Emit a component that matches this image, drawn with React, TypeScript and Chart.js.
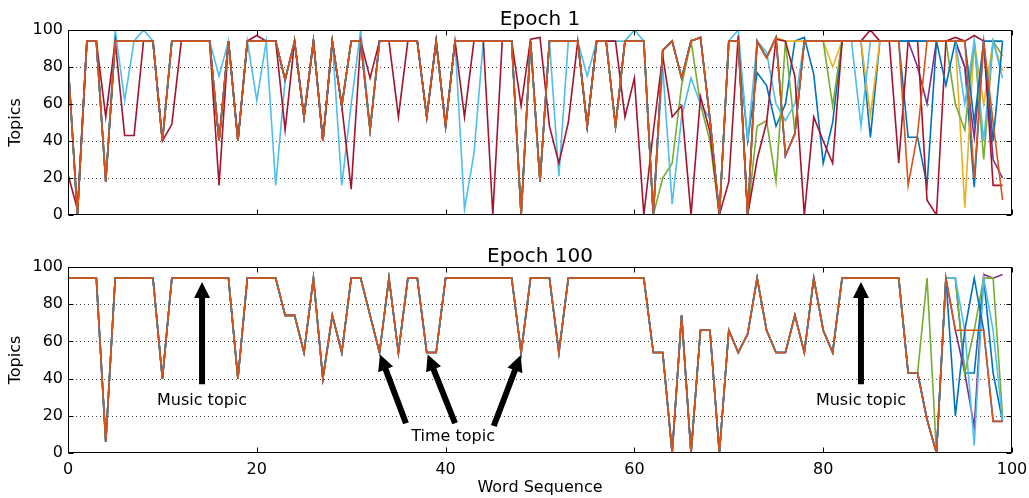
import React, { useEffect, useRef } from "react";
import { Chart, registerables } from "chart.js";

Chart.register(...registerables);

const FONT = "'DejaVu Sans', sans-serif";

// x positions (word index 0..99)
const wordIndex: number[] = Array.from({ length: 100 }, (_, i) => i);
const xTicks = [0, 20, 40, 60, 80, 100];
const yTicks = [0, 20, 40, 60, 80, 100];
const yGridValues = [20, 40, 60, 80];

// ---------- Epoch 1 (top) ----------
const topShared = [
  83, 0, 94, 94, 18, 94, 94, 94, 94, 94,
  40, 94, 94, 94, 94, 94, 40, 94, 40, 94,
  94, 94, 94, 73, 94, 53, 94, 40, 94, 59,
  94, 94, 46, 94, 94, 94, 94, 94, 53, 94,
  48, 94, 94, 94, 94, 94, 94, 94, 0, 94,
  18, 94, 94, 94, 94, 48, 94, 94, 48, 94,
  94,
];
const topOrangeTail = [
  94, 0, 89, 94, 74, 94, 96, 52, 0, 94,
  94, 0, 94, 85, 96, 32, 44, 94, 94, 94,
  94, 94, 94, 94, 94, 94, 94, 94, 16, 44,
  94, 94, 94, 94, 94, 20, 94, 50, 8,
];
const topBlueTail = [
  94, 0, 89, 94, 74, 94, 96, 52, 0, 94,
  94, 40, 77, 70, 48, 60, 94, 96, 76, 28,
  50, 94, 94, 94, 42, 94, 94, 94, 42, 42,
  16, 94, 94, 94, 80, 15, 94, 94, 94,
];
const topYellowTail = [
  94, 0, 89, 94, 74, 94, 96, 52, 0, 94,
  94, 0, 94, 85, 96, 94, 94, 94, 94, 94,
  80, 94, 94, 94, 54, 94, 94, 94, 94, 94,
  94, 94, 94, 94, 4, 94, 60, 94, 78,
];
const topPurpleTail = [
  94, 0, 89, 94, 74, 94, 96, 52, 0, 94,
  94, 0, 94, 85, 96, 32, 44, 94, 94, 94,
  94, 94, 94, 94, 94, 94, 94, 94, 94, 80,
  60, 94, 94, 94, 80, 42, 94, 30, 20,
];
const topGreenTail = [
  94, 0, 20, 28, 70, 94, 60, 40, 0, 94,
  94, 0, 48, 51, 18, 94, 45, 94, 94, 94,
  59, 94, 94, 94, 94, 94, 94, 94, 94, 94,
  94, 94, 94, 60, 46, 94, 30, 94, 86,
];
const topBlue2Tail = [
  94, 0, 89, 94, 74, 94, 96, 52, 0, 94,
  94, 0, 94, 85, 96, 32, 44, 94, 94, 94,
  94, 94, 94, 94, 94, 94, 94, 94, 94, 94,
  94, 94, 70, 94, 94, 50, 94, 40, 94,
];
const topLightBlue = [
  83, 0, 94, 94, 18, 100, 62, 94, 100, 94,
  40, 94, 94, 94, 94, 94, 75, 94, 40, 94,
  62, 94, 16, 73, 94, 53, 94, 40, 94, 16,
  60, 100, 46, 94, 94, 94, 94, 94, 53, 94,
  48, 94, 3, 33, 94, 94, 94, 94, 0, 94,
  18, 94, 21, 94, 94, 75, 94, 94, 94, 94,
  100, 94, 0, 80, 6, 53, 74, 60, 52, 0,
  94, 100, 40, 94, 88, 60, 51, 60, 94, 94,
  94, 94, 94, 94, 48, 94, 94, 94, 94, 94,
  94, 94, 94, 94, 94, 60, 94, 40, 94, 74,
];
const topCrimson = [
  22, 3, 94, 94, 53, 94, 43, 43, 94, 94,
  40, 49, 94, 94, 94, 94, 16, 94, 40, 94,
  97, 94, 94, 46, 94, 53, 94, 40, 94, 59,
  14, 94, 74, 94, 94, 53, 94, 94, 53, 94,
  48, 94, 53, 94, 94, 0, 94, 94, 59, 95,
  96, 48, 28, 50, 94, 48, 94, 94, 94, 53,
  74, 0, 45, 86, 53, 59, 0, 64, 45, 0,
  18, 97, 0, 30, 50, 95, 94, 75, 0, 53,
  40, 28, 94, 94, 94, 100, 94, 94, 28, 94,
  94, 8, 0, 94, 96, 94, 97, 94, 16, 16,
];

// ---------- Epoch 100 (bottom) ----------
const bottomShared = [
  94, 94, 94, 94, 6, 94, 94, 94, 94, 94,
  40, 94, 94, 94, 94, 94, 94, 94, 40, 94,
  94, 94, 94, 74, 74, 54, 94, 40, 74, 54,
  94, 94, 74, 54, 94, 54, 94, 94, 54, 54,
  94, 94, 94, 94, 94, 94, 94, 94, 54, 94,
  94, 94, 54, 94, 94, 94, 94, 94, 94, 94,
  94, 94, 54, 54, 0, 74, 0, 66, 66, 0,
  66, 54, 64, 94, 66, 54, 54, 74, 54, 94,
  66, 54, 94, 94, 94, 94, 94, 94, 94,
];
const bottomOrangeTail = [43, 43, 18, 0, 94, 66, 66, 66, 66, 17, 17];
const bottomGreenTail = [43, 43, 94, 0, 94, 94, 43, 66, 94, 94, 20];
const bottomBlueTail = [43, 43, 18, 0, 94, 94, 43, 43, 94, 43, 17];
const bottomBlue2Tail = [43, 43, 18, 0, 94, 20, 66, 94, 66, 17, 17];
const bottomPurpleTail = [43, 43, 18, 0, 94, 66, 43, 14, 96, 94, 96];
const bottomLightBlueTail = [43, 43, 18, 0, 94, 94, 66, 4, 94, 66, 17];

const C = {
  blue: "#0072BD",
  orange: "#D95319",
  yellow: "#EDB120",
  purple: "#7E2F8E",
  green: "#77AC30",
  lightblue: "#4DBEEE",
  crimson: "#A2142F",
};

type Series = { values: number[]; color: string; order: number };

const topSeries: Series[] = [
  { values: [...topShared, ...topBlueTail], color: C.blue, order: 7 },
  { values: [...topShared, ...topYellowTail], color: C.yellow, order: 6 },
  { values: [...topShared, ...topPurpleTail], color: C.purple, order: 5 },
  { values: [...topShared, ...topGreenTail], color: C.green, order: 4 },
  { values: topLightBlue, color: C.lightblue, order: 3 },
  { values: topCrimson, color: C.crimson, order: 2 },
  { values: [...topShared, ...topBlue2Tail], color: C.blue, order: 1 },
  { values: [...topShared, ...topOrangeTail], color: C.orange, order: 0 },
];

const bottomSeries: Series[] = [
  { values: [...bottomShared, ...bottomBlueTail], color: C.blue, order: 6 },
  { values: [...bottomShared, ...bottomPurpleTail], color: C.purple, order: 5 },
  { values: [...bottomShared, ...bottomGreenTail], color: C.green, order: 4 },
  { values: [...bottomShared, ...bottomLightBlueTail], color: C.lightblue, order: 3 },
  { values: [...bottomShared, ...bottomBlue2Tail], color: C.blue, order: 2 },
  { values: [...bottomShared, ...bottomOrangeTail], color: C.orange, order: 0 },
];

// annotations (data coordinates)
const arrowSpecs = [
  { from: [14.2, 37], to: [14.2, 92] },
  { from: [84.0, 37], to: [84.0, 92] },
  { from: [35.8, 16], to: [33.05, 53] },
  { from: [41.0, 16], to: [38.1, 53] },
  { from: [45.1, 14.5], to: [47.95, 52.5] },
];
const labelSpecs = [
  { text: "Music topic", at: [14.2, 28] },
  { text: "Music topic", at: [84.0, 28] },
  { text: "Time topic", at: [40.8, 8.6] },
];

function drawArrow(ctx: CanvasRenderingContext2D, x1: number, y1: number, x2: number, y2: number) {
  const dx = x2 - x1, dy = y2 - y1;
  const len = Math.hypot(dx, dy);
  const ux = dx / len, uy = dy / len;
  const px = -uy, py = ux;
  const headL = 16, headW = 8, shaftW = 3;
  const bx = x2 - ux * headL, by = y2 - uy * headL;
  ctx.beginPath();
  ctx.moveTo(x1 + px * shaftW, y1 + py * shaftW);
  ctx.lineTo(bx + px * shaftW, by + py * shaftW);
  ctx.lineTo(bx + px * headW, by + py * headW);
  ctx.lineTo(x2, y2);
  ctx.lineTo(bx - px * headW, by - py * headW);
  ctx.lineTo(bx - px * shaftW, by - py * shaftW);
  ctx.lineTo(x1 - px * shaftW, y1 - py * shaftW);
  ctx.closePath();
  ctx.fillStyle = "#000";
  ctx.fill();
}

function makeFramePlugin(title: string, annotate: boolean) {
  return {
    id: "frame_" + title.replace(/\s/g, ""),
    beforeDatasetsDraw(chart: any) {
      const { ctx, chartArea } = chart;
      const { left, right } = chartArea;
      const y = chart.scales.y;
      ctx.save();
      ctx.strokeStyle = "#444";
      ctx.lineWidth = 1;
      ctx.setLineDash([1, 3]);
      for (const v of yGridValues) {
        const py = Math.round(y.getPixelForValue(v)) + 0.5;
        ctx.beginPath();
        ctx.moveTo(left, py);
        ctx.lineTo(right, py);
        ctx.stroke();
      }
      ctx.restore();
    },
    afterDatasetsDraw(chart: any) {
      const { ctx, chartArea } = chart;
      const { left, right, top, bottom } = chartArea;
      const x = chart.scales.x;
      const y = chart.scales.y;
      ctx.save();
      ctx.strokeStyle = "#000";
      ctx.lineWidth = 1;
      ctx.setLineDash([]);
      const L = Math.round(left) + 0.5, R = Math.round(right) - 0.5;
      const T = Math.round(top) + 0.5, B = Math.round(bottom) - 0.5;
      ctx.strokeRect(L, T, R - L, B - T);
      const tl = 5;
      ctx.beginPath();
      for (const v of xTicks) {
        const px = Math.round(x.getPixelForValue(v)) + 0.5;
        ctx.moveTo(px, B);
        ctx.lineTo(px, B - tl);
        ctx.moveTo(px, T);
        ctx.lineTo(px, T + tl);
      }
      for (const v of yTicks) {
        const py = Math.round(y.getPixelForValue(v)) + 0.5;
        ctx.moveTo(L, py);
        ctx.lineTo(L + tl, py);
        ctx.moveTo(R, py);
        ctx.lineTo(R - tl, py);
      }
      ctx.stroke();

      if (annotate) {
        for (const a of arrowSpecs) {
          drawArrow(
            ctx,
            x.getPixelForValue(a.from[0]), y.getPixelForValue(a.from[1]),
            x.getPixelForValue(a.to[0]), y.getPixelForValue(a.to[1])
          );
        }
        ctx.fillStyle = "#000";
        ctx.font = `16px ${FONT}`;
        ctx.textAlign = "center";
        ctx.textBaseline = "middle";
        for (const l of labelSpecs) {
          ctx.fillText(l.text, x.getPixelForValue(l.at[0]), y.getPixelForValue(l.at[1]));
        }
      }

      ctx.fillStyle = "#000";
      ctx.font = `20px ${FONT}`;
      ctx.textAlign = "center";
      ctx.textBaseline = "alphabetic";
      ctx.fillText(title, (left + right) / 2, top - 5);
      ctx.restore();
    },
  };
}

function EpochChart(props: {
  series: Series[];
  title: string;
  showX: boolean;
  width: number;
  height: number;
  top: number;
  xHeight: number;
  annotate: boolean;
}) {
  const ref = useRef<HTMLCanvasElement | null>(null);
  useEffect(() => {
    if (!ref.current) return;
    const font = { family: FONT, size: 16 };
    const chart = new Chart(ref.current, {
      type: "line",
      data: {
        datasets: props.series.map((s) => ({
          data: s.values.map((v, i) => ({ x: wordIndex[i], y: v })),
          borderColor: s.color,
          backgroundColor: s.color,
          borderWidth: 1.6,
          pointRadius: 0,
          tension: 0,
          fill: false,
          order: s.order,
        })),
      },
      options: {
        responsive: false,
        maintainAspectRatio: false,
        animation: false,
        layout: { padding: { top: 30, right: 17, left: 0, bottom: 0 } },
        plugins: {
          legend: { display: false },
          tooltip: { enabled: false },
          title: { display: false },
        },
        scales: {
          x: {
            type: "linear",
            min: 0,
            max: 100,
            ticks: { stepSize: 20, display: props.showX, font, color: "#000", padding: 7 },
            grid: { display: false, drawTicks: false },
            border: { display: false },
            title: {
              display: props.showX,
              text: "Word Sequence",
              font,
              color: "#000",
              padding: { top: 0, bottom: 1 },
            },
            afterFit: (s: any) => {
              s.height = props.xHeight;
              s.paddingLeft = 0;
              s.paddingRight = 0;
            },
          },
          y: {
            min: 0,
            max: 100,
            ticks: { stepSize: 20, font, color: "#000", padding: 5 },
            grid: { display: false, drawTicks: false },
            border: { display: false },
            title: {
              display: true,
              text: "Topics",
              font,
              color: "#000",
              padding: { top: 6, bottom: 0 },
            },
            afterFit: (s: any) => {
              s.width = 68;
              s.paddingTop = 0;
              s.paddingBottom = 0;
            },
          },
        },
      } as any,
      plugins: [makeFramePlugin(props.title, props.annotate)],
    });
    return () => chart.destroy();
  }, []);
  return (
    <canvas
      ref={ref}
      width={props.width}
      height={props.height}
      style={{ position: "absolute", left: 0, top: props.top, width: props.width, height: props.height }}
    />
  );
}

export default function App() {
  return (
    <div style={{ position: "absolute", left: 0, top: 0, width: 1029, height: 498, background: "#fff" }}>
      <EpochChart series={topSeries} title="Epoch 1" showX={false} width={1029} height={230} top={0} xHeight={15} annotate={false} />
      <EpochChart series={bottomSeries} title="Epoch 100" showX={true} width={1029} height={261} top={237} xHeight={45} annotate={true} />
    </div>
  );
}
